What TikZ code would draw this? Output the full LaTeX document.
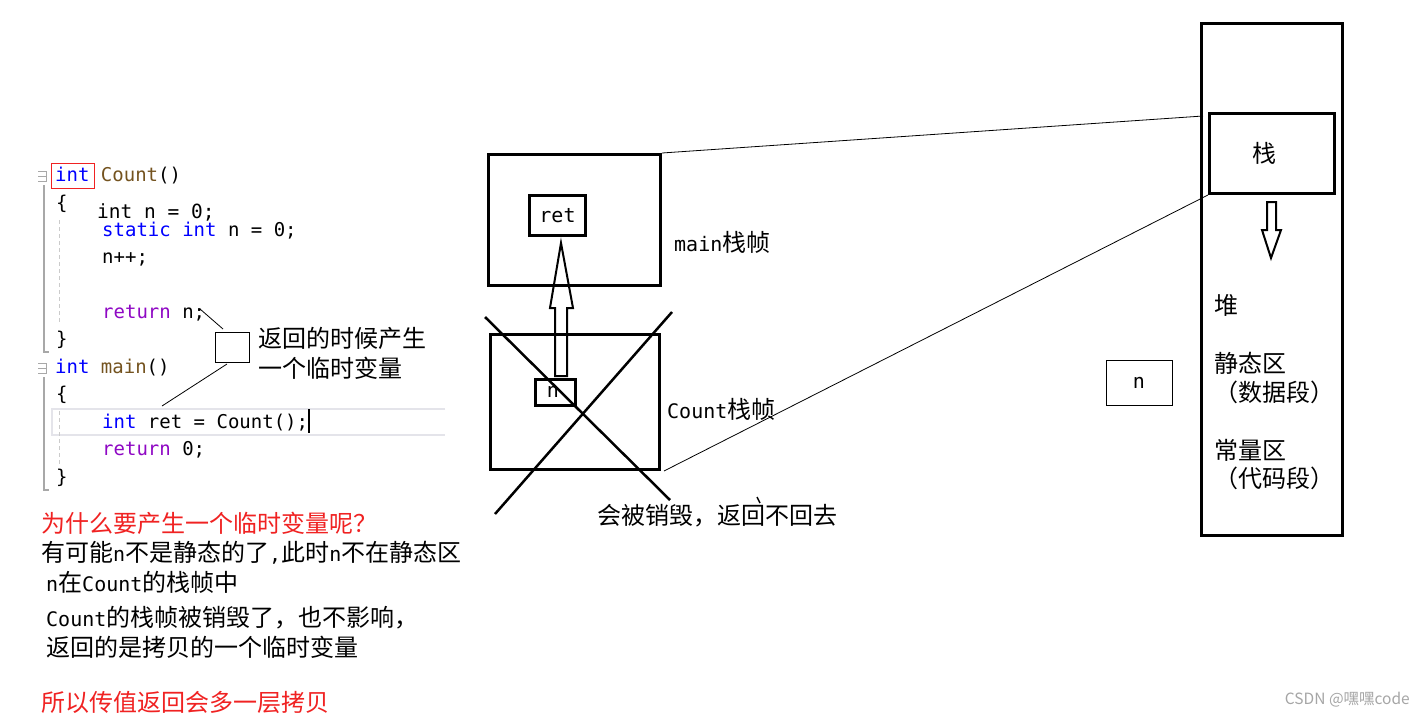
\documentclass[tikz,border=0pt]{standalone}
\usepackage{fontspec}
\setmainfont{Noto Sans CJK SC}
\newfontfamily\monof{DejaVu Sans Mono}
\usetikzlibrary{calc}
\definecolor{kw}{HTML}{0000FF}
\definecolor{fn}{HTML}{74531F}
\definecolor{rt}{HTML}{8F08C4}
\definecolor{redt}{HTML}{F02222}
\definecolor{gut}{HTML}{A8A8A8}
\definecolor{hl}{HTML}{E4E4EA}
\newcommand\lt[1]{{\monof\fontsize{20}{24}\selectfont #1}}
\tikzset{
  code/.style={anchor=base west, inner sep=0pt, font=\monof\fontsize{19}{22}\selectfont},
  cn/.style={anchor=base west, inner sep=0pt, font=\fontsize{24}{28}\selectfont},
  frame/.style={draw, line width=3pt, inner sep=0pt},
  thinbox/.style={draw, line width=1pt, inner sep=0pt},
  thinline/.style={line width=0.8pt},
  hollow/.style={draw, line width=2pt, line join=miter}
}
\begin{document}
\begin{tikzpicture}[x=1pt,y=-1pt]
\useasboundingbox (0,0) rectangle (1425,718);
\fill[white] (0,0) rectangle (1425,718);

% ---------- code editor ----------
\draw[hl, line width=1.5pt] (445,409) -- (52,409) -- (52,435) -- (445,435);
\draw[gut, line width=1pt] (38,171) -- (46,171) -- (46,181) -- (38,181);
\draw[gut, line width=1pt] (38,176) -- (46,176);
\draw[gut, line width=1pt] (38,363) -- (46,363) -- (46,373) -- (38,373);
\draw[gut, line width=1pt] (38,368) -- (46,368);
\draw[gut, line width=1.5pt] (44,185) -- (44,352) -- (49,352);
\draw[gut, line width=1.5pt] (44,377) -- (44,490) -- (49,490);
\draw[gut!60, line width=1pt, dash pattern=on 4pt off 3pt] (59,220) -- (59,322);
\draw[gut!60, line width=1pt, dash pattern=on 4pt off 3pt] (59,411) -- (59,466);

\draw[redt, line width=1pt] (51,163) rectangle (94,188);
\node[code] (l1) at (55,181) {\textcolor{kw}{int} \textcolor{fn}{Count}()};
\node[code] (l2) at (56,209) {\{};
\node[code, font=\monof\fontsize{19.5}{22}\selectfont] (l3) at (97,218) {int n = 0;};
\node[code] (l4) at (102,236) {\textcolor{kw}{static int} n = 0;};
\node[code] (l5) at (102,263) {n++;};
\node[code] (l6) at (102,318) {\textcolor{rt}{return} n;};
\node[code] (l7) at (56,345) {\}};
\node[code] (l8) at (55,373) {\textcolor{kw}{int} \textcolor{fn}{main}()};
\node[code] (l9) at (56,400) {\{};
\node[code] (l10) at (102,428) {\textcolor{kw}{int} ret = Count();};
\draw[line width=1.3pt] (309,409) -- (309,433);
\node[code] (l11) at (102,455) {\textcolor{rt}{return} 0;};
\node[code] (l12) at (56,483) {\}};

% callout
\node[thinbox, minimum width=34pt, minimum height=30pt] (cb) at (232,347) {};
\coordinate (rn) at (200,309);
\coordinate (cbt) at (223,329);
\coordinate (cbb) at (227,364);
\coordinate (rc) at (162,406);
\draw[thinline] (rn) -- (cbt);
\draw[thinline] (cbb) -- (rc);
\node[cn] (t1) at (258,347) {返回的时候产生};
\node[cn] (t2) at (258,377) {一个临时变量};

% ---------- bottom explanation ----------
\node[cn, text=redt] (b1) at (41,532) {为什么要产生一个临时变量呢？};
\node[cn] (b2) at (41,561) {有可能\lt{n}不是静态的了\lt{,}此时\lt{n}不在静态区};
\node[cn] (b3) at (46,591) {\lt{n}在\lt{Count}的栈帧中};
\node[cn] (b4) at (46,626) {\lt{Count}的栈帧被销毁了，也不影响，};
\node[cn] (b5) at (46,656) {返回的是拷贝的一个临时变量};
\node[cn, text=redt] (b6) at (41,711) {所以传值返回会多一层拷贝};

% ---------- stack frames ----------
\node[frame, minimum width=172pt, minimum height=131pt] (mainf) at (574.5,220) {};
\node[frame, minimum width=56pt, minimum height=40pt, font=\monof\fontsize{20}{24}\selectfont] (ret) at (557.5,215.5) {ret};
\node[frame, minimum width=169pt, minimum height=135pt] (countf) at (575,402) {};
\node[frame, line width=2.5pt, minimum width=40pt, minimum height=26pt] (nb) at (555.5,392.5) {};
\node[inner sep=0pt, font=\monof\fontsize{20}{24}\selectfont] (nt) at (553,392) {n};
\draw[hollow] (555,376) -- (555,308) -- (550,308) -- (561,243) -- (573,308) -- (567,308) -- (567,376) -- cycle;

\coordinate (x1a) at (485,317);
\coordinate (x1b) at (670,500);
\coordinate (x2a) at (672,312);
\coordinate (x2b) at (495,514);
\draw[line width=2.5pt] (x1a) -- (x1b);
\draw[line width=2.5pt] (x2a) -- (x2b);

\node[cn] (ml) at (674,251) {\lt{main}栈帧};
\node[cn] (cl) at (667,418) {\lt{Count}栈帧};
\node[cn] (dl) at (597,524) {会被销毁，返回不回去};
\coordinate (tk1) at (757,497);
\coordinate (tk2) at (760,503);
\draw[line width=1.5pt] (tk1) -- (tk2);

% ---------- memory layout ----------
\node[frame, minimum width=141pt, minimum height=512pt] (big) at (1272,279.5) {};
\node[frame, minimum width=125pt, minimum height=80pt, font=\fontsize{24}{28}\selectfont] (stk) at (1272,153.5) {\hspace*{-16pt}栈};
\draw[hollow] (1267,202) -- (1276,202) -- (1276,230) -- (1281,230) -- (1271,258) -- (1262,230) -- (1267,230) -- cycle;
\node[cn] (h1) at (1214,314) {堆};
\node[cn] (h2) at (1214,372) {静态区};
\node[cn] (h3) at (1214,401) {（数据段）};
\node[cn] (h4) at (1214,459) {常量区};
\node[cn] (h5) at (1214,487) {（代码段）};
\node[thinbox, minimum width=66pt, minimum height=45pt, font=\monof\fontsize{20}{24}\selectfont] (nr) at (1139,382.5) {n};

\coordinate (sk1) at (1203,116);
\draw[thinline] (mainf.north east) -- (sk1);
\draw[thinline] ($(countf.south east)+(3,0)$) -- (stk.south west);

% watermark
\node[anchor=east, inner sep=0pt, text=gray!70, font=\fontsize{15.5}{18}\selectfont] (wm) at (1410,700) {CSDN @嘿嘿code};
\end{tikzpicture}
\end{document}
